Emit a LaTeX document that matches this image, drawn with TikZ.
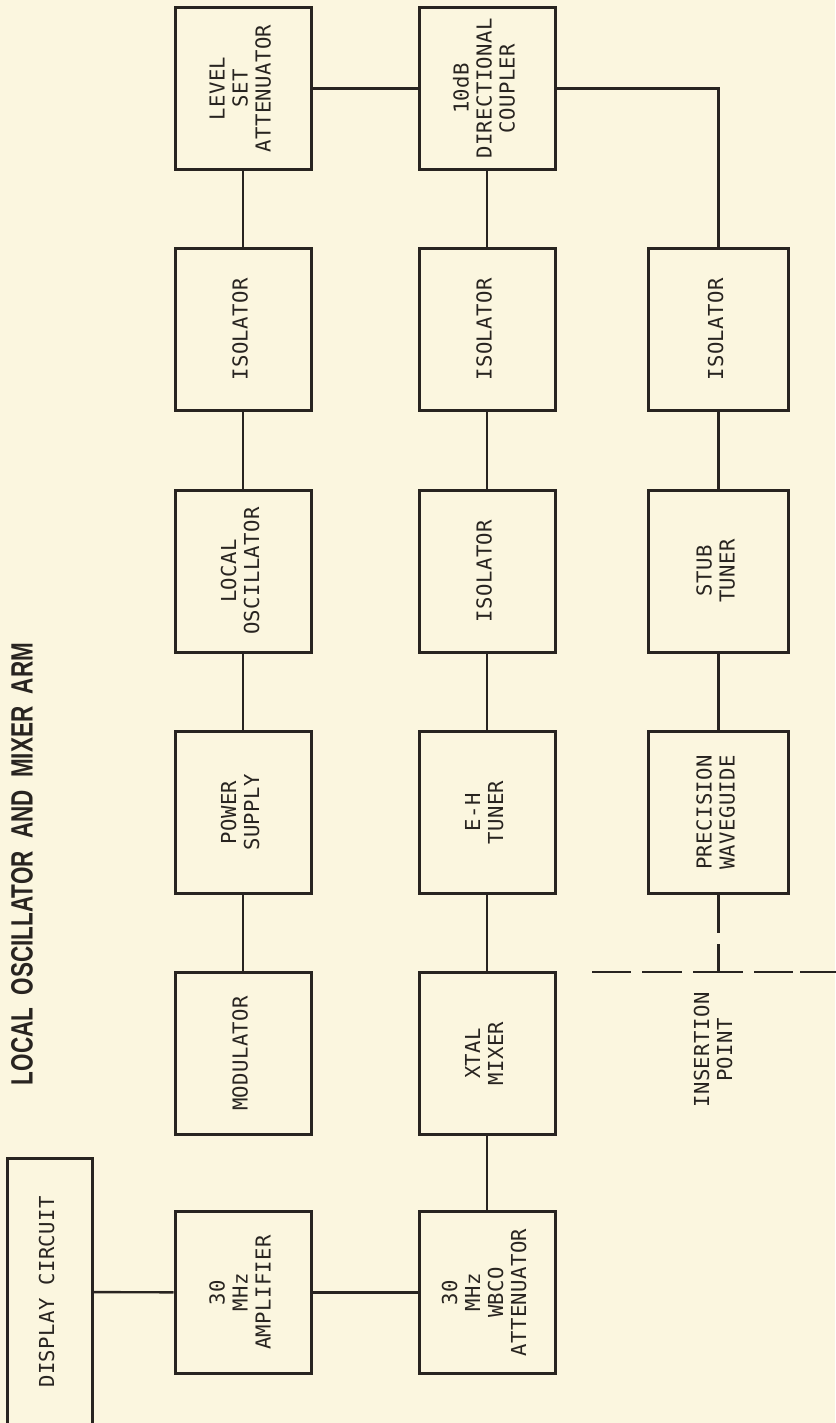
\documentclass[tikz,border=0pt]{standalone}
\usepackage{fontspec}
\usepackage{graphicx}
\setmainfont{DejaVu Sans Mono}[LetterSpace=2]
\newfontfamily\titlefont{Liberation Sans}

\definecolor{paper}{RGB}{251,246,223}
\definecolor{ink}{RGB}{40,36,32}

% text set sideways, reading from bottom to top
\newcommand\vlabel[1]{\rotatebox{90}{\begin{tabular}{@{}c@{}}#1\end{tabular}}}
\newcommand\tgap{\hspace{0.55em}}

\tikzset{
  blk/.style={draw=ink, line width=1.5pt, fill=paper, inner sep=0pt,
              minimum width=68pt, minimum height=81pt, text=ink},
  wideblk/.style={blk, minimum width=70pt},
  wire/.style={draw=ink, line width=1.2pt},
  insline/.style={draw=ink, line width=1.4pt}
}

\begin{document}
\begin{tikzpicture}[x=0.5pt, y=-0.5pt,
  font=\fontsize{10.3}{11.5}\selectfont]
\renewcommand\arraystretch{1}

% page
\path[use as bounding box, fill=paper] (0,0) rectangle (835,1423);

% title
\node[rotate=90, text=ink, inner sep=0pt] (title) at (22,864)
  {\resizebox{221pt}{10.75pt}{\titlefont\bfseries LOCAL\tgap OSCILLATOR\tgap AND\tgap MIXER\tgap ARM}};

% first column
\node[blk] (lsa)  at (243,88.5)   {\vlabel{LEVEL\\SET\\ATTENUATOR}};
\node[blk] (iso1) at (243,329.5)  {\vlabel{ISOLATOR}};
\node[blk] (lo)   at (243,571)    {\vlabel{LOCAL\\OSCILLATOR}};
\node[blk] (ps)   at (243,812.5)  {\vlabel{POWER\\SUPPLY}};
\node[blk] (mod)  at (243,1053.5) {\vlabel{MODULATOR}};
\node[blk] (amp)  at (243,1292.5) {\vlabel{30\\MHz\\AMPLIFIER}};

% second column
\node[blk] (dc)   at (487,88.5)   {\vlabel{10dB\\DIRECTIONAL\\COUPLER}};
\node[blk] (iso2) at (487,329.5)  {\vlabel{ISOLATOR}};
\node[blk] (iso3) at (487,571)    {\vlabel{ISOLATOR}};
\node[blk] (eh)   at (487,812.5)  {\vlabel{E-H\\TUNER}};
\node[blk] (xtal) at (487,1053.5) {\vlabel{XTAL\\MIXER}};
\node[blk] (wbco) at (487,1292.5) {\vlabel{30\\MHz\\WBCO\\ATTENUATOR}};

% third column
\node[wideblk] (iso4) at (718.5,329.5) {\vlabel{ISOLATOR}};
\node[wideblk] (stub) at (718.5,571)   {\vlabel{STUB\\TUNER}};
\node[wideblk] (pw)   at (718.5,812.5) {\vlabel{PRECISION\\WAVEGUIDE}};

% display circuit, running off the lower edge
\node[blk, minimum width=42.5pt, minimum height=134pt] (disp) at (49.5,1292)
  {\vlabel{DISPLAY CIRCUIT}};

% insertion point
\node[text=ink] (inslbl) at (716,1050) {\vlabel{INSERTION\\POINT}};
\coordinate (ip) at (718.5,972);
\coordinate (dl) at (592,972);
\coordinate (dr) at (860,972);

% connections
\draw[wire] (lsa) -- (iso1);
\draw[wire] (iso1) -- (lo);
\draw[wire] (lo) -- (ps);
\draw[wire] (ps) -- (mod);
\draw[wire] (lsa) -- (dc);
\draw[wire] (dc) -- (iso2);
\draw[wire] (iso2) -- (iso3);
\draw[wire] (iso3) -- (eh);
\draw[wire] (eh) -- (xtal);
\draw[wire] (xtal) -- (wbco);
\draw[wire] (dc.east) -| (iso4.north);
\draw[wire] (iso4) -- (stub);
\draw[wire] (stub) -- (pw);
\draw[wire] (disp) -- (amp);
\draw[wire] (amp) -- (wbco);
\draw[wire, dash pattern=on 19pt off 5.5pt on 20pt] (pw.south) -- (ip);
\draw[insline, dash pattern=on 19.5pt off 5.5pt on 20pt off 5.5pt on 25pt off 5.5pt on 19.5pt off 3.5pt on 40pt]
  (dl) -- (dr);
\end{tikzpicture}
\end{document}
